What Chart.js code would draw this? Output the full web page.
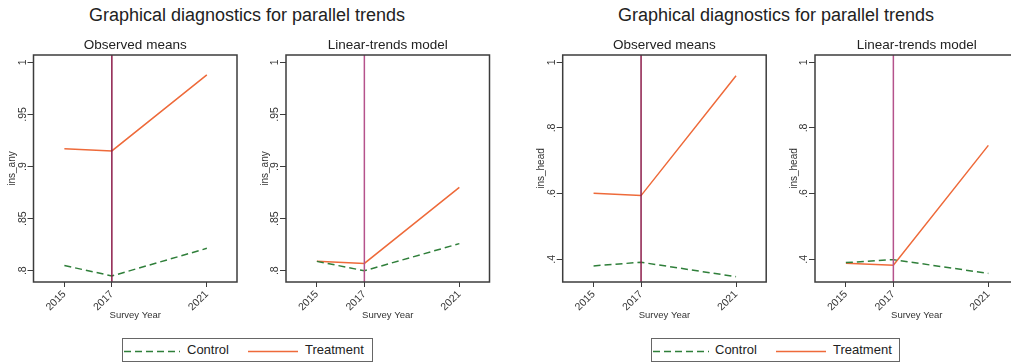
<!DOCTYPE html>
<html>
<head>
<meta charset="utf-8">
<script src="https://cdn.jsdelivr.net/npm/chart.js@4.4.1/dist/chart.umd.min.js"></script>
<style>
  html, body { margin: 0; padding: 0; background: #fff; overflow: hidden; }
  body { width: 1011px; height: 364px; position: relative; font-family: "Liberation Sans", Arial, sans-serif; }
  .fig-title { position: absolute; top: 5px; font-size: 18px; color: #222; white-space: nowrap; transform: translateX(-50%); }
  .panel { position: absolute; top: 30px; height: 300px; }
  .legend { position: absolute; top: 338px; height: 24px; border: 1px solid #666; box-sizing: border-box; }
  .legend svg { position: absolute; left: 0; top: 0; }
  .legend span { position: absolute; top: 3px; font-size: 13px; color: #222; white-space: nowrap; }
</style>
</head>
<body>
<div class="fig-title" style="left:247px">Graphical diagnostics for parallel trends</div>
<div class="fig-title" style="left:776px">Graphical diagnostics for parallel trends</div>

<div class="legend" style="left:122px;width:251px">
  <svg width="251" height="24">
    <line x1="1" y1="12.5" x2="57" y2="12.5" stroke="#2f7f3a" stroke-width="1.5" stroke-dasharray="7 4"/>
    <line x1="125" y1="12.5" x2="175" y2="12.5" stroke="#ee6a3a" stroke-width="1.5"/>
  </svg>
  <span style="left:64px">Control</span>
  <span style="left:182px">Treatment</span>
</div>
<div class="legend" style="left:651px;width:249px">
  <svg width="249" height="24">
    <line x1="1" y1="12.5" x2="57" y2="12.5" stroke="#2f7f3a" stroke-width="1.5" stroke-dasharray="7 4"/>
    <line x1="124" y1="12.5" x2="174" y2="12.5" stroke="#ee6a3a" stroke-width="1.5"/>
  </svg>
  <span style="left:63px">Control</span>
  <span style="left:181px">Treatment</span>
</div>

<script>
// Survey waves and the year the treatment starts
const years = [2015, 2017, 2021];
const treatYear = 2017;

// Any insurance coverage (ins_any)
const anyObsControl   = [0.805, 0.795, 0.8215];
const anyObsTreatment = [0.917, 0.915, 0.988];
const anyLinControl   = [0.809, 0.800, 0.826];
const anyLinTreatment = [0.809, 0.807, 0.880];

// Household head insured (ins_head)
const headObsControl   = [0.380, 0.391, 0.347];
const headObsTreatment = [0.601, 0.594, 0.959];
const headLinControl   = [0.390, 0.399, 0.357];
const headLinTreatment = [0.388, 0.382, 0.747];

// Axis tick labels
const xTicks = [2015, 2017, 2021];
const anyTicks = [0.8, 0.85, 0.9, 0.95, 1];
const headTicks = [0.4, 0.6, 0.8, 1];

const FONT = '"Liberation Sans", Arial, sans-serif';
Chart.defaults.font.family = FONT;
Chart.defaults.color = '#333';

const ORANGE = '#ee6a3a';
const GREEN = '#2f7f3a';
const FRAME = '#3c3c3c';
const PLOT_W = 203.5;
const Y_AXIS_W = 34;
const TICK_FONT = 10.5;

function fmtY(v) {
  const s = String(Math.round(v * 100) / 100);
  return s.startsWith('0.') ? s.slice(1) : s;
}

const framePlugin = {
  id: 'frame',
  afterDraw(chart, args, opts) {
    const { ctx, chartArea: a, scales } = chart;
    ctx.save();
    // treatment-start reference line
    const xp = scales.x.getPixelForValue(treatYear);
    ctx.strokeStyle = opts.lineColor;
    ctx.lineWidth = 1.5;
    ctx.beginPath();
    ctx.moveTo(xp, a.top);
    ctx.lineTo(xp, a.bottom);
    ctx.stroke();
    // plot-region box
    ctx.strokeStyle = FRAME;
    ctx.lineWidth = 1.5;
    ctx.strokeRect(a.left, a.top, a.right - a.left, a.bottom - a.top);
    ctx.restore();
  }
};

function makePanel(cfg) {
  const canvasLeft = Math.floor(cfg.plotLeft - Y_AXIS_W);
  const yW = cfg.plotLeft - canvasLeft;
  const width = 252;
  const div = document.createElement('div');
  div.className = 'panel';
  div.style.left = canvasLeft + 'px';
  div.style.width = width + 'px';
  const canvas = document.createElement('canvas');
  div.appendChild(canvas);
  document.body.appendChild(div);

  const widestHalf = cfg.widest / 2;

  new Chart(canvas, {
    type: 'line',
    data: {
      datasets: [
        {
          label: 'Control',
          data: years.map((x, i) => ({ x, y: cfg.control[i] })),
          borderColor: GREEN, borderWidth: 1.5, borderDash: [7, 4],
          pointRadius: 0, tension: 0, fill: false
        },
        {
          label: 'Treatment',
          data: years.map((x, i) => ({ x, y: cfg.treatment[i] })),
          borderColor: ORANGE, borderWidth: 1.5,
          pointRadius: 0, tension: 0, fill: false
        }
      ]
    },
    options: {
      responsive: true,
      maintainAspectRatio: false,
      animation: false,
      events: [],
      layout: { padding: { left: 0, right: width - yW - PLOT_W, top: 0, bottom: 0 } },
      plugins: {
        legend: { display: false },
        tooltip: { enabled: false },
        title: {
          display: true, text: cfg.title, fullSize: false,
          font: { size: 13.5, weight: 'normal' }, color: '#222',
          padding: { top: 7.4, bottom: 1.4 }
        },
        frame: { lineColor: cfg.lineColor }
      },
      scales: {
        x: {
          type: 'linear', min: 2013.7, max: 2022.27,
          afterBuildTicks: s => { s.ticks = xTicks.map(v => ({ value: v })); },
          afterFit: s => { s.height = 48; },
          ticks: {
            minRotation: 45, maxRotation: 45, padding: 1,
            font: { size: TICK_FONT }, color: '#333',
            callback: v => String(v)
          },
          grid: { drawOnChartArea: false, drawTicks: true, tickLength: 5, color: FRAME, lineWidth: 1 },
          border: { display: false },
          title: { display: true, text: 'Survey Year', font: { size: 9.5 }, color: '#333', padding: { top: 0, bottom: 9.3 } }
        },
        y: {
          type: 'linear', min: cfg.yMin, max: cfg.yMax,
          afterBuildTicks: s => { s.ticks = cfg.yTicks.map(v => ({ value: v })); },
          afterFit: s => { s.width = yW; },
          ticks: {
            minRotation: 90, maxRotation: 90, crossAlign: 'center',
            padding: 4.5 - widestHalf,
            font: { size: TICK_FONT }, color: '#333',
            callback: v => fmtY(v)
          },
          grid: { drawOnChartArea: false, drawTicks: true, tickLength: 6, color: FRAME, lineWidth: 1 },
          border: { display: false },
          title: { display: true, text: cfg.yTitle, font: { size: 10 }, color: '#333', padding: { top: 7.5, bottom: 0 } }
        }
      }
    },
    plugins: [framePlugin]
  });
}

function labelWidth(texts, size) {
  const c = document.createElement('canvas').getContext('2d');
  c.font = size + 'px ' + FONT;
  return Math.max(...texts.map(t => c.measureText(t).width));
}

const anyW = labelWidth(anyTicks.map(fmtY), TICK_FONT);
const headW = labelWidth(headTicks.map(fmtY), TICK_FONT);

makePanel({ plotLeft: 33.5, title: 'Observed means', yTitle: 'ins_any', control: anyObsControl, treatment: anyObsTreatment,
  yMin: 0.7892, yMax: 1.007, yTicks: anyTicks, widest: anyW, lineColor: '#8c1c4a' });
makePanel({ plotLeft: 286, title: 'Linear-trends model', yTitle: 'ins_any', control: anyLinControl, treatment: anyLinTreatment,
  yMin: 0.7892, yMax: 1.007, yTicks: anyTicks, widest: anyW, lineColor: '#b5528c' });
makePanel({ plotLeft: 562.7, title: 'Observed means', yTitle: 'ins_head', control: headObsControl, treatment: headObsTreatment,
  yMin: 0.3309, yMax: 1.0222, yTicks: headTicks, widest: headW, lineColor: '#8c1c4a' });
makePanel({ plotLeft: 815, title: 'Linear-trends model', yTitle: 'ins_head', control: headLinControl, treatment: headLinTreatment,
  yMin: 0.3309, yMax: 1.0222, yTicks: headTicks, widest: headW, lineColor: '#b5528c' });
</script>
</body>
</html>
